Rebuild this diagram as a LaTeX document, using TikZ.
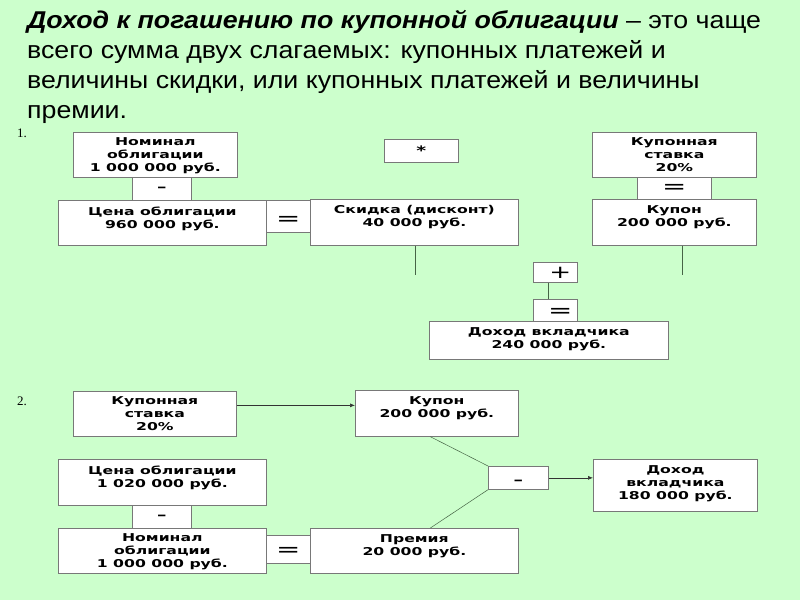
\documentclass[tikz,border=0pt]{standalone}
\usepackage{fontspec}
\setmainfont{Liberation Sans}
\newfontfamily\headfont[FakeStretch=1.1]{Liberation Sans}
\newfontfamily\boxfont[FakeStretch=1.45]{DejaVu Sans}
\newfontfamily\numfont{Liberation Serif}
\usepackage{xcolor}
\definecolor{SlideGreen}{RGB}{204,255,204}
\definecolor{BoxLine}{RGB}{120,120,120}
\definecolor{LinkLine}{RGB}{70,100,70}
\usepackage{tikz}
\usetikzlibrary{arrows.meta,positioning,calc}

\tikzset{
  box/.style={draw=BoxLine,fill=white,line width=0.7pt,inner sep=0pt,anchor=north west},
  boxtext/.style={anchor=north,align=center,inner sep=0pt,yshift=-6.5pt,
    font=\boxfont\bfseries\fontsize{10.8}{13}\selectfont},
  opsign/.style={font=\boxfont\bfseries\fontsize{13}{13}\selectfont},
  link/.style={draw=black!80,line width=0.6pt},
  thinlink/.style={draw=LinkLine,line width=0.5pt},
  arr/.style={link,-{Latex[length=5pt,width=4pt]}}
}

\begin{document}
\begin{tikzpicture}[x=1pt,y=-1pt]
  \fill[SlideGreen] (0,0) rectangle (800,600);
  \useasboundingbox (0,0) rectangle (800,600);

  % heading
  \node[anchor=north west,align=left,inner sep=0pt,
        font=\headfont\fontsize{24.3}{30}\selectfont] (title) at (27,10)
    {\textbf{\textit{Доход к погашению по купонной облигации}} – это чаще\\
     всего сумма двух слагаемых: купонных платежей и\\
     величины скидки, или купонных платежей и величины\\
     премии.};

  % part 1
  \node[font=\numfont\fontsize{13}{13}\selectfont] (num1) at (22,133) {1.};

  \node[box,minimum width=164pt,minimum height=45pt] (nom1) at (73,132) {};
  \node[boxtext,yshift=1.5pt] (nom1t) at (nom1.north) {Номинал\\облигации\\1 000 000 руб.};
  \node[box,minimum width=59pt,minimum height=23pt,opsign] (minus1) at (132,177) {–};
  \node[box,minimum width=208pt,minimum height=45pt] (price1) at (58,200) {};
  \node[boxtext] (price1t) at (price1.north) {Цена облигации\\960 000 руб.};
  \node[box,minimum width=44pt,minimum height=32pt] (eq1) at (266,200) {};
  \node[opsign,font=\boxfont\fontsize{20}{20}\selectfont] (eq1t) at ($(eq1.center)+(0,5)$) {=};
  \node[box,minimum width=208pt,minimum height=46pt] (disc1) at (310,199) {};
  \node[boxtext] (disc1t) at (disc1.north) {Скидка (дисконт)\\40 000 руб.};
  \coordinate (disc1end) at (415,275);
  \draw[thinlink] (disc1end |- disc1.south) -- (disc1end);

  \node[box,minimum width=74pt,minimum height=23pt,opsign] (mult) at (384,139) {*};

  \node[box,minimum width=164pt,minimum height=45pt] (rate1) at (592,132) {};
  \node[boxtext,yshift=1.5pt] (rate1t) at (rate1.north) {Купонная\\ставка\\20\%};
  \node[box,minimum width=74pt,minimum height=22pt] (eq2) at (637,177) {};
  \node[opsign,font=\boxfont\fontsize{20}{20}\selectfont] (eq2t) at ($(eq2.center)+(0,1)$) {=};
  \node[box,minimum width=164pt,minimum height=46pt] (coupon1) at (592,199) {};
  \node[boxtext] (coupon1t) at (coupon1.north) {Купон\\200 000 руб.};
  \coordinate (coupon1end) at (682,275);
  \draw[thinlink] (coupon1end |- coupon1.south) -- (coupon1end);

  \node[box,minimum width=44pt,minimum height=20pt] (plus) at (533,262) {};
  \node[opsign,font=\boxfont\fontsize{18}{18}\selectfont] (plust) at ($(plus.center)+(5,1)$) {+};
  \node[box,minimum width=44pt,minimum height=22pt] (eq3) at (533,299) {};
  \node[opsign,font=\boxfont\fontsize{20}{20}\selectfont] (eq3t) at ($(eq3.center)+(5,3)$) {=};
  \draw[thinlink] ([xshift=-7pt]plus.south) -- ([xshift=-7pt]eq3.north);
  \node[box,minimum width=239pt,minimum height=38pt] (income1) at (429,321) {};
  \node[boxtext] (income1t) at (income1.north) {Доход вкладчика\\240 000 руб.};

  % part 2
  \node[font=\numfont\fontsize{13}{13}\selectfont] (num2) at (22,401) {2.};

  \node[box,minimum width=163pt,minimum height=45pt] (rate2) at (73,391) {};
  \node[boxtext,yshift=1.5pt] (rate2t) at (rate2.north) {Купонная\\ставка\\20\%};
  \node[box,minimum width=163pt,minimum height=46pt] (coupon2) at (355,390) {};
  \node[boxtext] (coupon2t) at (coupon2.north) {Купон\\200 000 руб.};
  \draw[arr] ([yshift=8.5pt]rate2.east) -- ([yshift=8.5pt]rate2.east -| coupon2.west);

  \node[box,minimum width=208pt,minimum height=46pt] (price2) at (58,459) {};
  \node[boxtext] (price2t) at (price2.north) {Цена облигации\\1 020 000 руб.};
  \node[box,minimum width=59pt,minimum height=23pt,opsign] (minus2) at (132,505) {–};
  \node[box,minimum width=208pt,minimum height=45pt] (nom2) at (58,528) {};
  \node[boxtext,yshift=1.5pt] (nom2t) at (nom2.north) {Номинал\\облигации\\1 000 000 руб.};
  \node[box,minimum width=44pt,minimum height=28pt] (eq4) at (266,535) {};
  \node[opsign,font=\boxfont\fontsize{20}{20}\selectfont] (eq4t) at ($(eq4.center)+(0,3)$) {=};
  \node[box,minimum width=208pt,minimum height=45pt] (prem) at (310,528) {};
  \node[boxtext] (premt) at (prem.north) {Премия\\20 000 руб.};

  \node[box,minimum width=60pt,minimum height=23pt] (minus3) at (488,466) {};
  \node[opsign] (minus3t) at ($(minus3.center)+(0,4)$) {–};
  \draw[thinlink] ([xshift=-6.5pt]coupon2.south) -- (minus3.north west);
  \draw[thinlink] ([xshift=16pt]prem.north) -- (minus3.south west);

  \node[box,minimum width=164pt,minimum height=52pt] (income2) at (593,459) {};
  \node[boxtext] (income2t) at (income2.north) {Доход\\вкладчика\\180 000 руб.};
  \draw[arr] (minus3.east) -- (minus3.east -| income2.west);
\end{tikzpicture}
\end{document}
